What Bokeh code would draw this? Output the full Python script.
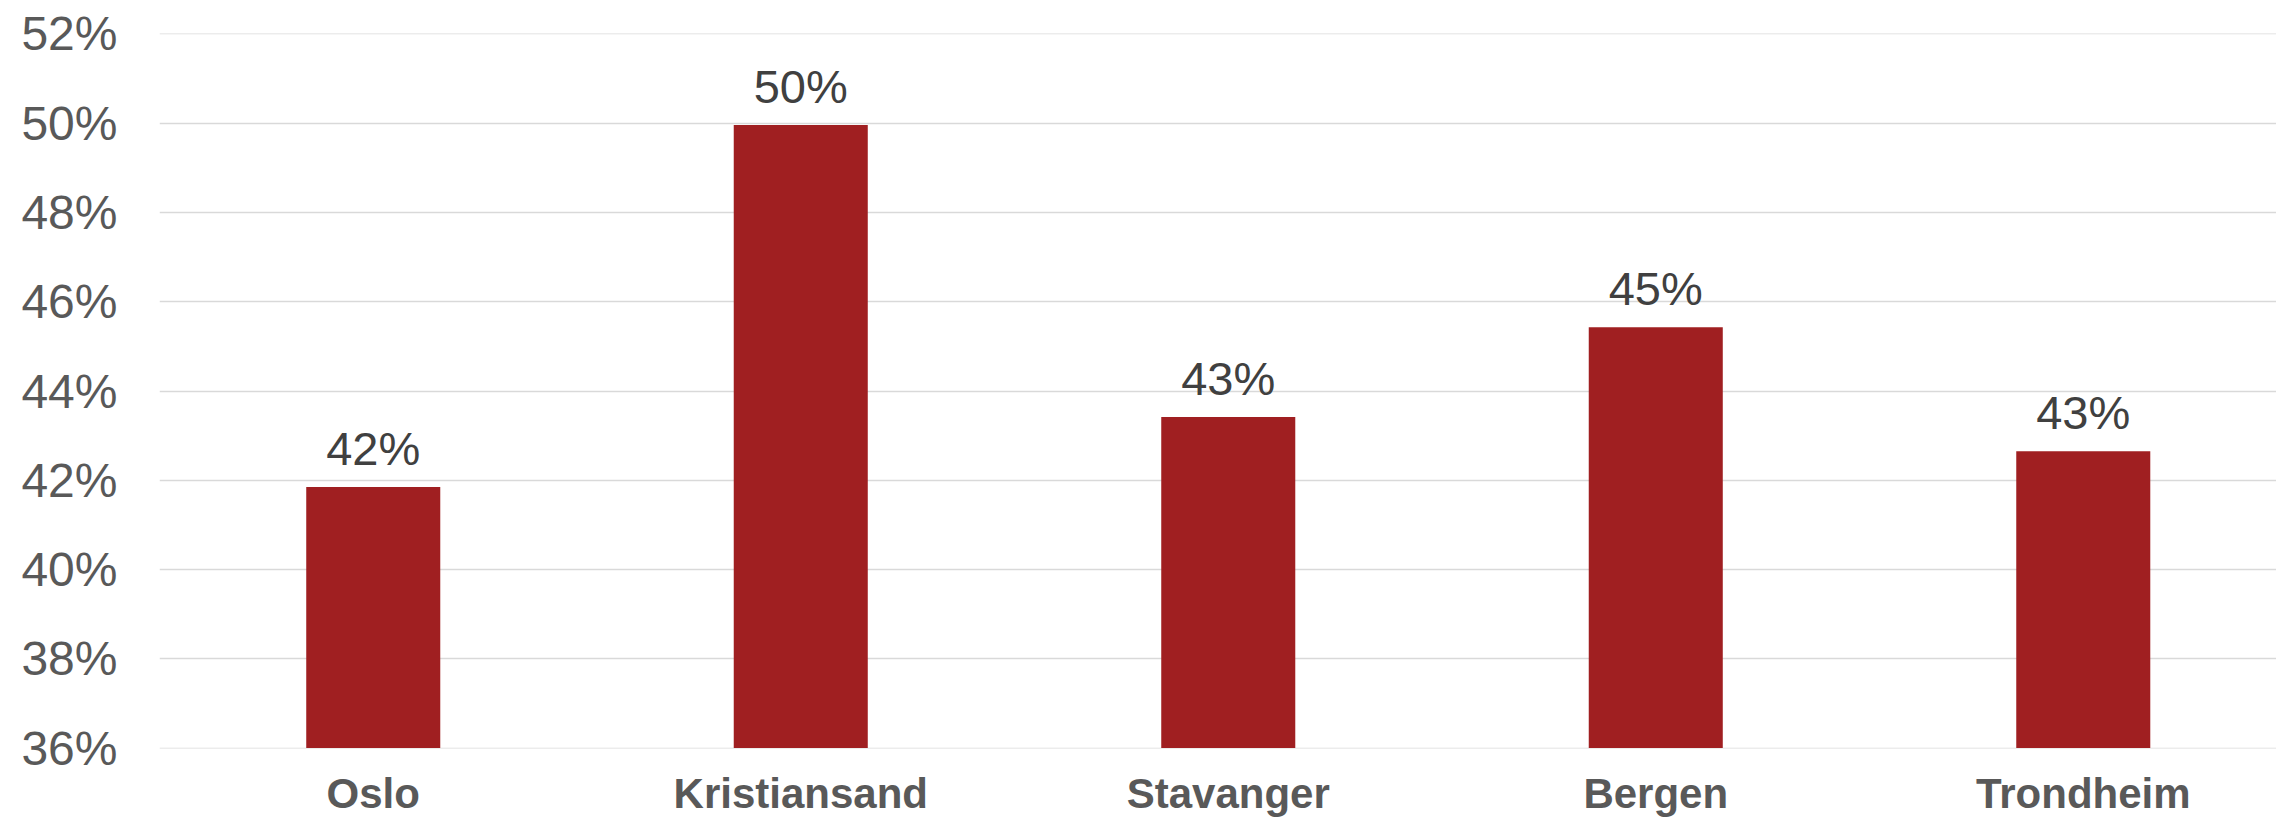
from bokeh.plotting import figure
from bokeh.models import ColumnDataSource, Range1d, FixedTicker
from bokeh.embed import file_html
from bokeh.resources import INLINE
from bokeh.core.properties import value

cities = ["Oslo", "Kristiansand", "Stavanger", "Bergen", "Trondheim"]
shares = [41.85, 49.96, 43.42, 45.43, 42.65]
labels = ["42%", "50%", "43%", "45%", "43%"]
y_ticks = [36, 38, 40, 42, 44, 46, 48, 50, 52]

idx = list(range(len(cities)))
src = ColumnDataSource(dict(x=idx, top=shares, lab=labels))

p = figure(width=2276, height=820, output_backend="svg", toolbar_location=None,
           x_range=Range1d(-0.5, 4.452), y_range=Range1d(35.99, 52.01),
           min_border_left=159, min_border_right=0, min_border_top=33, min_border_bottom=72)
p.outline_line_color = None
p.background_fill_color = "white"
p.border_fill_color = "white"

p.vbar(x="x", top="top", bottom=36, width=0.3135, source=src,
       fill_color="#A01F21", line_color=None)

p.text(x="x", y="top", text="lab", source=src, text_align="center",
       text_baseline="bottom", y_offset=-12,
       text_font=value("Liberation Sans"), text_font_size="47px", text_color="#404040")

# Y axis
p.yaxis.ticker = FixedTicker(ticks=y_ticks)
p.yaxis.major_label_overrides = {t: f"{t}%" for t in y_ticks}
p.yaxis.axis_line_color = None
p.yaxis.major_tick_line_color = None
p.yaxis.major_tick_out = 0
p.yaxis.major_tick_in = 0
p.yaxis.minor_tick_line_color = None
p.yaxis.major_label_standoff = 42
p.yaxis.major_label_text_font = "Liberation Sans"
p.yaxis.major_label_text_font_size = "48px"
p.yaxis.major_label_text_color = "#595959"

# X axis
p.xaxis.ticker = FixedTicker(ticks=idx)
p.xaxis.major_label_overrides = {i: c for i, c in zip(idx, cities)}
p.xaxis.axis_line_color = None
p.xaxis.major_tick_line_color = None
p.xaxis.major_tick_out = 0
p.xaxis.major_tick_in = 0
p.xaxis.minor_tick_line_color = None
p.xaxis.major_label_standoff = 21
p.xaxis.major_label_text_font = "Liberation Sans"
p.xaxis.major_label_text_font_style = "bold"
p.xaxis.major_label_text_font_size = "42px"
p.xaxis.major_label_text_color = "#595959"

p.xgrid.grid_line_color = None
p.ygrid.ticker = FixedTicker(ticks=y_ticks)
p.ygrid.grid_line_color = "#d9d9d9"
p.ygrid.grid_line_width = 1.5

open("out.html", "w").write(file_html(p, INLINE))
